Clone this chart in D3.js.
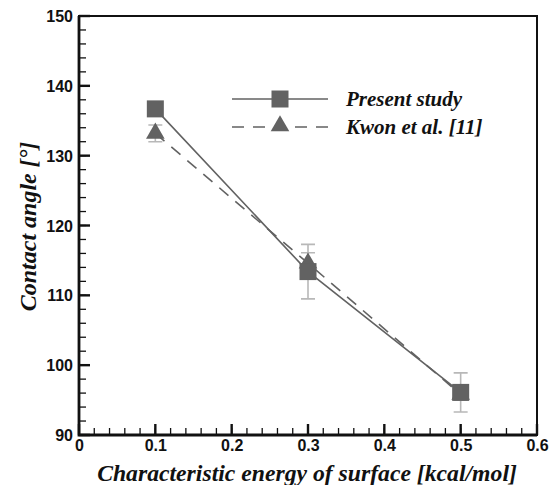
<!DOCTYPE html>
<html>
<head>
<meta charset="utf-8">
<script src="https://cdn.jsdelivr.net/npm/d3@7"></script>
<style>
  body { margin: 0; background: #fff; }
</style>
</head>
<body>
<script>
// Data
var energy = [0.1, 0.3, 0.5]
var presentAngle = [136.7, 113.4, 96.1]
var presentErr = [0, 3.9, 2.8]
var kwonAngle = [133.2, 114.6, 95.8]
var kwonErr = [1.2, 1.5, 0.8]
var seriesNames = ["Present study", "Kwon et al. [11]"]
var xTicks = [0, 0.1, 0.2, 0.3, 0.4, 0.5, 0.6]
var yTicks = [90, 100, 110, 120, 130, 140, 150]
var xMinor = d3.range(0, 0.601, 0.02)
var yMinor = d3.range(90, 150.1, 2)

var margin = {top: 16, right: 18, bottom: 50, left: 79},
    width = 555 - margin.left - margin.right,
    height = 485 - margin.top - margin.bottom

var x = d3.scaleLinear().domain([0, 0.6]).range([0, width])
var y = d3.scaleLinear().domain([90, 150]).range([height, 0])

var svg = d3.select("body")
    .append("svg")
        .attr("width", 555)
        .attr("height", 485)
    .append("g")
        .attr("transform", "translate(" + margin.left + "," + margin.top + ")")

// frame
svg.append("rect")
    .attr("width", width).attr("height", height)
    .attr("fill", "none").attr("stroke", "#111").attr("stroke-width", 2)
svg.append("path")
    .attr("d", "M0,0V" + height + "H" + width)
    .attr("fill", "none").attr("stroke", "#111").attr("stroke-width", 2.8)

// inward ticks, drawn from the scales
var ticks = svg.append("g").attr("stroke", "#111")
ticks.selectAll(".mx").data(xMinor).join("line").attr("class", "mx")
    .attr("x1", d => x(d)).attr("x2", d => x(d)).attr("y1", height).attr("y2", height - 7)
    .attr("stroke-width", 1.3)
ticks.selectAll(".my").data(yMinor).join("line").attr("class", "my")
    .attr("x1", 0).attr("x2", 7).attr("y1", d => y(d)).attr("y2", d => y(d))
    .attr("stroke-width", 1.3)
ticks.selectAll(".jx").data(xTicks).join("line").attr("class", "jx")
    .attr("x1", d => x(d)).attr("x2", d => x(d)).attr("y1", height).attr("y2", height - 11)
    .attr("stroke-width", 2.4)
ticks.selectAll(".jy").data(yTicks).join("line").attr("class", "jy")
    .attr("x1", 0).attr("x2", 11).attr("y1", d => y(d)).attr("y2", d => y(d))
    .attr("stroke-width", 2.4)

// tick labels
var xAxis = svg.append("g")
    .attr("transform", "translate(0," + height + ")")
    .call(d3.axisBottom(x).tickValues(xTicks).tickSize(0).tickPadding(5).tickFormat(d => d === 0 ? "0" : d3.format(".1f")(d)))
xAxis.select(".domain").remove()

var yAxis = svg.append("g")
    .call(d3.axisLeft(y).tickValues(yTicks).tickSize(0).tickPadding(6))
yAxis.select(".domain").remove()
yAxis.selectAll("text").attr("dy", "0.35em")

svg.selectAll(".tick text")
    .style("font-family", "'Liberation Sans'")
    .style("font-weight", "bold")
    .style("font-size", "16px")
    .attr("fill", "#111")

var markColor = "#626262"
var line = d3.line().x(d => x(d[0])).y(d => y(d[1]))

svg.append("path")
    .datum(d3.zip(energy, kwonAngle))
    .attr("d", line)
    .attr("fill", "none").attr("stroke", markColor).attr("stroke-width", 1.6)
    .attr("stroke-dasharray", "12,9")
svg.append("path")
    .datum(d3.zip(energy, presentAngle))
    .attr("d", line)
    .attr("fill", "none").attr("stroke", markColor).attr("stroke-width", 1.6)

// error bars
function errorBars(vals, errs) {
    var g = svg.append("g").attr("stroke", "#b8b8b8").attr("stroke-width", 1.6).attr("fill", "none")
    energy.forEach(function(e, i) {
        if (!errs[i]) return
        var cx = x(e), y0 = y(vals[i] - errs[i]), y1 = y(vals[i] + errs[i])
        g.append("path").attr("d",
            "M" + cx + "," + y0 + "V" + y1 +
            "M" + (cx - 7) + "," + y0 + "H" + (cx + 7) +
            "M" + (cx - 7) + "," + y1 + "H" + (cx + 7))
    })
}
errorBars(presentAngle, presentErr)
errorBars(kwonAngle, kwonErr)

var tri = d3.symbol().type(d3.symbolTriangle).size(150)
svg.selectAll(".tri")
    .data(d3.zip(energy, kwonAngle))
    .join("path")
    .attr("class", "tri")
    .attr("d", tri)
    .attr("transform", d => "translate(" + x(d[0]) + "," + y(d[1]) + ")")
    .attr("fill", markColor)

svg.selectAll(".sq")
    .data(d3.zip(energy, presentAngle))
    .join("rect")
    .attr("class", "sq")
    .attr("x", d => x(d[0]) - 8.5).attr("y", d => y(d[1]) - 8.5)
    .attr("width", 17).attr("height", 17)
    .attr("fill", markColor)

function serif(sel, size) {
    return sel.style("font-family", "'Liberation Serif'")
        .style("font-weight", "bold").style("font-style", "italic")
        .style("font-size", size + "px").attr("fill", "#111")
}

// legend
var lg = svg.append("g").attr("transform", "translate(" + (232 - margin.left) + "," + (99 - margin.top) + ")")
lg.append("line").attr("x1", 0).attr("x2", 96).attr("y1", 0).attr("y2", 0)
    .attr("stroke", markColor).attr("stroke-width", 1.6)
lg.append("rect").attr("x", 48 - 8.5).attr("y", -8.5).attr("width", 17).attr("height", 17).attr("fill", markColor)
lg.append("line").attr("x1", 0).attr("x2", 96).attr("y1", 28).attr("y2", 28)
    .attr("stroke", markColor).attr("stroke-width", 1.6).attr("stroke-dasharray", "12,9")
lg.append("path").attr("d", tri).attr("transform", "translate(48,27)").attr("fill", markColor)
lg.selectAll("text")
    .data(seriesNames)
    .join("text")
    .attr("x", 114)
    .attr("y", (d, i) => i * 28)
    .attr("dy", "0.35em")
    .call(serif, 21)
    .text(d => d)

// axis titles
svg.append("text")
    .attr("x", width / 2 - 1).attr("y", height + 46)
    .attr("text-anchor", "middle")
    .call(serif, 23.7)
    .text("Characteristic energy of surface [kcal/mol]")

svg.append("text")
    .attr("transform", "translate(" + (36 - margin.left) + "," + (y(120) + 1) + ") rotate(-90)")
    .attr("text-anchor", "middle")
    .call(serif, 24)
    .text("Contact angle [°]")
</script>
</body>
</html>
